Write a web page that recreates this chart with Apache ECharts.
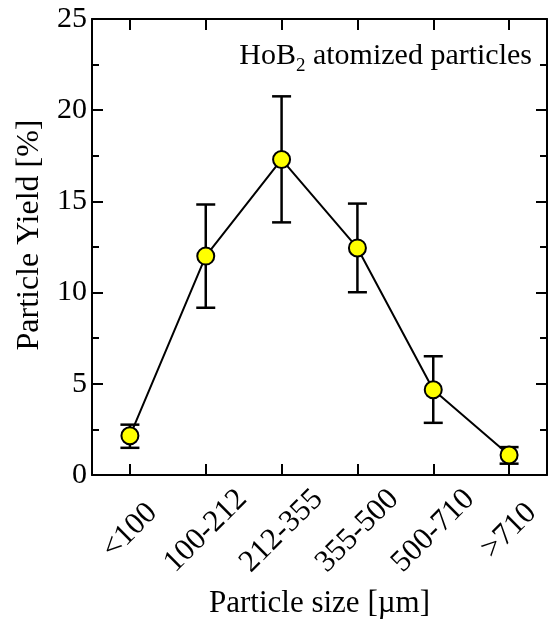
<!DOCTYPE html>
<html>
<head>
<meta charset="utf-8">
<script src="https://cdn.jsdelivr.net/npm/echarts@6/dist/echarts.min.js"></script>
<style>
  html, body { margin: 0; padding: 0; background: #fff; }
  #chart { width: 549px; height: 628px; }
</style>
</head>
<body>
<div id="chart"></div>
<script>
// particle size classes (um)
const categories = ['<100', '100-212', '212-355', '355-500', '500-710', '>710'];
// yield [%] and error bar ends
const yieldPct = [2.15, 12.0, 17.3, 12.45, 4.67, 1.1];
const errLow = [1.49, 9.17, 13.85, 10.02, 2.86, 0.62];
const errHigh = [2.76, 14.83, 20.76, 14.88, 6.51, 1.53];
// y axis range
const yMin = 0;
const yMax = 25;
const yStep = 5;

const FONT = 'Liberation Serif';
const INK = '#000';

const errData = categories.map((c, i) => [i, errLow[i], errHigh[i]]);

function renderErr(params, api) {
  const x = api.value(0);
  const top = api.coord([x, api.value(2)]);
  const bot = api.coord([x, api.value(1)]);
  const half = 9.5;
  const style = { stroke: INK, lineWidth: 2.5 };
  return {
    type: 'group',
    children: [
      { type: 'line', shape: { x1: top[0], y1: top[1], x2: bot[0], y2: bot[1] }, style },
      { type: 'line', shape: { x1: top[0] - half, y1: top[1], x2: top[0] + half, y2: top[1] }, style },
      { type: 'line', shape: { x1: bot[0] - half, y1: bot[1], x2: bot[0] + half, y2: bot[1] }, style }
    ]
  };
}

const frameLine = { show: true, onZero: false, lineStyle: { color: INK, width: 2 } };
const xTick = { show: true, inside: true, alignWithLabel: true, length: 11, lineStyle: { color: INK, width: 2 } };
const yTick = { show: true, inside: true, length: 11, lineStyle: { color: INK, width: 2 } };
const yMinor = { show: true, splitNumber: 2, length: 7, lineStyle: { color: INK, width: 2 } };

const chart = echarts.init(document.getElementById('chart'));
chart.setOption({
  animation: false,
  backgroundColor: '#fff',
  grid: { left: 92, right: 2, top: 19, bottom: 153, containLabel: false, outerBoundsMode: 'none' },
  xAxis: [
    {
      type: 'category',
      data: categories,
      position: 'bottom',
      boundaryGap: true,
      axisLine: frameLine,
      axisTick: xTick,
      axisLabel: {
        interval: 0, rotate: 45, align: 'center', verticalAlign: 'middle', margin: 56,
        color: INK, fontFamily: FONT, fontSize: 31
      },
      splitLine: { show: false },
      name: 'Particle size [\u00b5m]',
      nameLocation: 'middle',
      nameGap: 113,
      nameTextStyle: { color: INK, fontFamily: FONT, fontSize: 31 }
    },
    {
      type: 'category',
      data: categories,
      position: 'top',
      boundaryGap: true,
      axisLine: frameLine,
      axisTick: xTick,
      axisLabel: { show: false },
      splitLine: { show: false }
    }
  ],
  yAxis: [
    {
      type: 'value',
      min: yMin, max: yMax, interval: yStep,
      position: 'left',
      axisLine: frameLine,
      axisTick: yTick,
      minorTick: yMinor,
      axisLabel: { margin: 5, color: INK, fontFamily: FONT, fontSize: 30 },
      splitLine: { show: false },
      minorSplitLine: { show: false },
      name: 'Particle Yield [%]',
      nameLocation: 'middle',
      nameGap: 46,
      nameTextStyle: { color: INK, fontFamily: FONT, fontSize: 32, padding: [0, 0, 0, 24] }
    },
    {
      type: 'value',
      min: yMin, max: yMax, interval: yStep,
      position: 'right',
      axisLine: frameLine,
      axisTick: yTick,
      minorTick: yMinor,
      axisLabel: { show: false },
      splitLine: { show: false },
      minorSplitLine: { show: false }
    }
  ],
  graphic: [
    {
      type: 'text',
      right: 17,
      top: 41,
      style: {
        text: '{a|HoB}{s|2}{a| atomized particles}',
        rich: {
          a: { fontFamily: FONT, fontSize: 30, fill: INK },
          s: { fontFamily: FONT, fontSize: 19, fill: INK, padding: [20, 0, 0, 0] }
        }
      }
    }
  ],
  series: [
    {
      type: 'custom',
      xAxisIndex: 0, yAxisIndex: 0,
      data: errData,
      encode: { x: 0, y: [1, 2] },
      renderItem: renderErr,
      z: 2,
      silent: true
    },
    {
      type: 'line',
      xAxisIndex: 0, yAxisIndex: 0,
      data: yieldPct,
      symbol: 'circle',
      symbolSize: 17,
      lineStyle: { color: INK, width: 2 },
      itemStyle: { color: '#ffff00', borderColor: INK, borderWidth: 2 },
      z: 3
    }
  ]
});
</script>
</body>
</html>
